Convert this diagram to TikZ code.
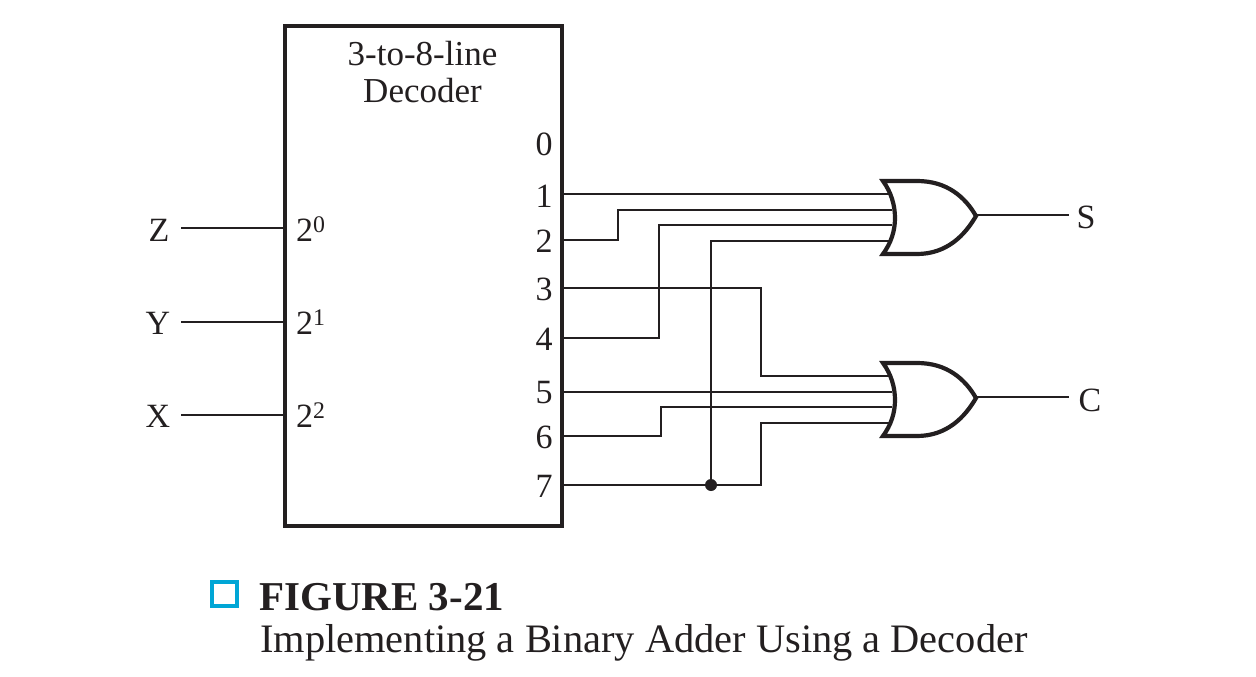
\documentclass[tikz,border=0pt]{standalone}
\usepackage{fontspec}
\setmainfont{Liberation Serif}
\definecolor{ink}{RGB}{35,31,32}
\definecolor{figblue}{RGB}{0,166,214}
\newcommand{\orshape}[2]{% x of left corners, y of top
  \draw[orgate] (#1,#2) .. controls (#1+8,#2+11) and (#1+12,#2+24) .. (#1+12,#2+37)
    .. controls (#1+12,#2+50) and (#1+8,#2+62) .. (#1,#2+73)
    -- (#1+34,#2+73) .. controls (#1+64,#2+73) and (#1+82,#2+54) .. (#1+93,#2+35)
    .. controls (#1+82,#2+16) and (#1+64,#2) .. (#1+34,#2) -- cycle;
}
\tikzset{
  wire/.style={draw=ink,line width=1.7pt,line join=miter},
  orgate/.style={draw=ink,line width=4.2pt,line join=miter,fill=white},
  decoderbox/.style={draw=ink,line width=3.4pt,fill=white,inner sep=0pt,outer sep=0pt,anchor=north west,minimum width=277pt,minimum height=500pt},
  lab/.style={font=\fontsize{35}{37}\selectfont,text=ink,inner sep=0pt},
  port/.style={font=\fontsize{34}{38}\selectfont,text=ink,inner sep=0pt},
  junction/.style={circle,fill=ink,inner sep=0pt,minimum size=12pt}
}
\begin{document}
\begin{tikzpicture}[x=1pt,y=-1pt]
\useasboundingbox (0,0) rectangle (1256,677);
\fill[white] (0,0) rectangle (1256,677);
\node[decoderbox] (dec) at (285,26) {};
\node[lab,align=center] (title) at (422.5,72) {\fontsize{35}{37}\selectfont 3-to-8-line\\Decoder};

% inputs
\node[port] (Z) at (159,230) {Z};
\node[port] (Y) at (158,323) {Y};
\node[port] (X) at (158,416) {X};
\coordinate (zs) at (181,228); \coordinate (ys) at (181,322); \coordinate (xs) at (181,415);
\coordinate (ze) at (285,228); \coordinate (ye) at (285,322); \coordinate (xe) at (285,415);
\draw[wire] (zs) -- (ze);
\draw[wire] (ys) -- (ye);
\draw[wire] (xs) -- (xe);
\node[port,anchor=west] (p0) at (296,229) {2\textsuperscript{0}};
\node[port,anchor=west] (p1) at (296,322) {2\textsuperscript{1}};
\node[port,anchor=west] (p2) at (296,415) {2\textsuperscript{2}};

% outputs
\node[port] (o0) at (544,144) {0};
\node[port] (o1) at (544,196) {1};
\node[port] (o2) at (544,241) {2};
\node[port] (o3) at (544,289) {3};
\node[port] (o4) at (544,339) {4};
\node[port] (o5) at (544,393) {5};
\node[port] (o6) at (544,437) {6};
\node[port] (o7) at (544,486) {7};

\coordinate (w1) at (563,194); \coordinate (w2) at (563,240); \coordinate (w3) at (563,288);
\coordinate (w4) at (563,338); \coordinate (w5) at (563,392); \coordinate (w6) at (563,436);
\coordinate (w7) at (563,485);
\coordinate (sa) at (892,194); \coordinate (sb) at (892,210); \coordinate (sc) at (892,225); \coordinate (sd) at (892,241);
\coordinate (ca) at (892,376); \coordinate (cb) at (892,392); \coordinate (cc) at (892,407); \coordinate (cd) at (892,423);

\draw[wire] (w1) -- (sa);
\draw[wire] (w2) -| (618,225) |- (sb);
\draw[wire] (w4) -- (659,338) |- (sc);
\draw[wire] (w7) -- (761,485) |- (cd);
\draw[wire] (w3) -- (761,288) |- (ca);
\draw[wire] (w5) -- (cb);
\draw[wire] (w6) -- (661,436) |- (cc);
\node[junction] (jn) at (711,485) {};
\draw[wire] (jn) |- (sd);

% gates
\orshape{883}{181}
\orshape{883}{363}
\coordinate (gs) at (976,215); \coordinate (gc) at (976,397);
\node[port] (S) at (1086,217) {S};
\node[port] (C) at (1090,400) {C};
\draw[wire] (gs) -- (1069,215);
\draw[wire] (gc) -- (1069,397);

% caption
\draw[figblue,line width=4.2pt] (212,582) rectangle (237,606);
\node[anchor=base west,inner sep=0pt,text=ink,font=\fontsize{41}{44}\selectfont\bfseries] (fig) at (259,610) {FIGURE 3-21};
\node[anchor=base west,inner sep=0pt,text=ink,font=\fontsize{40.4}{44}\selectfont] (cap) at (260,652) {Implementing a Binary Adder Using a Decoder};
\end{tikzpicture}
\end{document}
